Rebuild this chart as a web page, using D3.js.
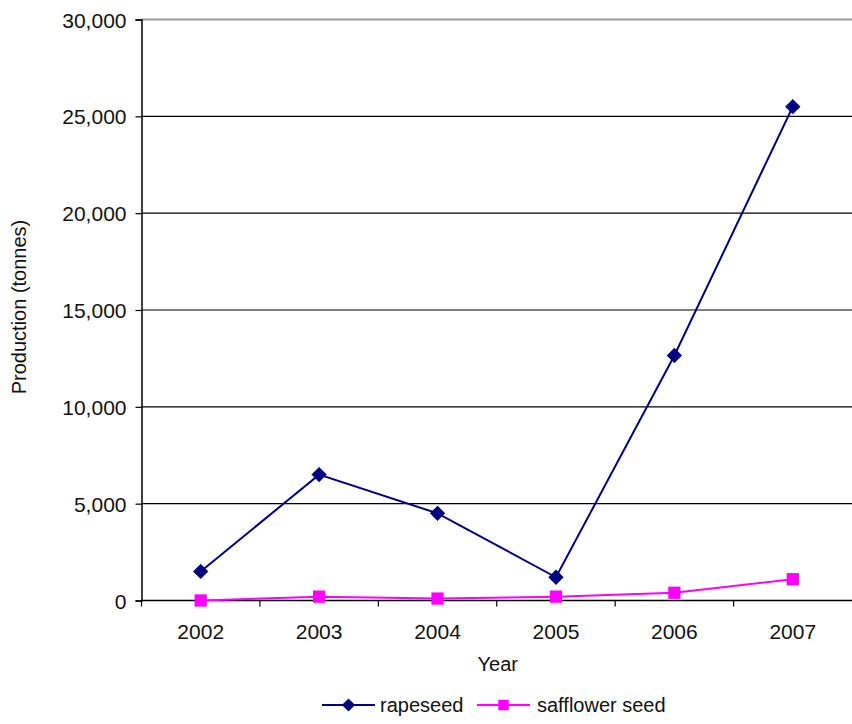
<!DOCTYPE html>
<html><head><meta charset="utf-8">
<script src="https://cdn.jsdelivr.net/npm/d3@7"></script>
<style>body{margin:0;background:#fff}svg{display:block}text{font-family:"Liberation Sans",Arial,sans-serif;fill:#111}</style>
</head><body>
<script>
const years = ["2002","2003","2004","2005","2006","2007"];
const rapeseed = [1500, 6500, 4500, 1200, 12650, 25500];
const safflower = [0, 200, 100, 200, 400, 1100];
const yTicks = [0, 5000, 10000, 15000, 20000, 25000, 30000];
const seriesNames = ["rapeseed", "safflower seed"];
const seriesColors = ["#000080", "#FF00FF"];

const W = 852, H = 724;
const m = {left: 141.5, right: 852, top: 19.5, bottom: 600.5};
const svg = d3.select("body").append("svg").attr("width", W).attr("height", H);

const x = d3.scaleBand().domain(years).range([m.left, m.right]);
const y = d3.scaleLinear().domain([0, 30000]).range([m.bottom, m.top]);

// gridlines
svg.append("g").selectAll("line").data(yTicks.filter(d => d > 0)).join("line")
  .attr("x1", m.left).attr("x2", m.right)
  .attr("y1", d => y(d)).attr("y2", d => y(d))
  .attr("stroke", d => d === 30000 ? "#999" : "#000").attr("stroke-width", d => d === 30000 ? 2 : 1.2);

const fmt = d3.format(",");
const yAxis = svg.append("g").attr("transform", `translate(${m.left},0)`)
  .call(d3.axisLeft(y).tickValues(yTicks).tickFormat(fmt).tickSize(6).tickPadding(9));
yAxis.select(".domain").attr("stroke", "#000").attr("stroke-width", 1.5);
yAxis.selectAll(".tick line").attr("stroke", "#000").attr("stroke-width", 1.2);
yAxis.selectAll("text").style("font-size", "21px").attr("fill", "#111").attr("dy", "0.36em");

// x axis
const xAxisG = svg.append("g").attr("transform", `translate(0,${m.bottom})`);
xAxisG.append("line").attr("x1", m.left).attr("x2", m.right).attr("y1", 0).attr("y2", 0)
  .attr("stroke", "#000").attr("stroke-width", 1.5);
const bounds = years.map(d => x(d)).concat([x(years[years.length-1]) + x.bandwidth()]);
xAxisG.selectAll("line.tk").data(bounds.slice(0, 6)).join("line").attr("class","tk")
  .attr("x1", d => d).attr("x2", d => d).attr("y1", 0).attr("y2", 6)
  .attr("stroke", "#000").attr("stroke-width", 1.2);
xAxisG.selectAll("text").data(years).join("text")
  .attr("x", d => x(d) + x.bandwidth()/2).attr("y", 38)
  .attr("text-anchor", "middle").style("font-size", "21px").text(d => d);

// axis titles
svg.append("text").attr("x", (m.left + m.right)/2 + 1).attr("y", 671)
  .attr("text-anchor", "middle").style("font-size", "20px").text("Year");
svg.append("text").attr("transform", `translate(26,${(m.top + m.bottom)/2 - 3}) rotate(-90)`)
  .attr("text-anchor", "middle").style("font-size", "20px").text("Production (tonnes)");

const cx = d => x(d) + x.bandwidth()/2;
const line = d3.line().x((d, i) => cx(years[i])).y(d => y(d));

const diamond = d3.symbol().type(d3.symbolDiamond2).size(150);
const square = d3.symbol().type(d3.symbolSquare).size(150);

// safflower
svg.append("path").datum(safflower).attr("d", line).attr("fill", "none")
  .attr("stroke", seriesColors[1]).attr("stroke-width", 2);
svg.append("g").selectAll("path").data(safflower).join("path")
  .attr("transform", (d, i) => `translate(${cx(years[i])},${y(d)})`)
  .attr("d", square).attr("fill", seriesColors[1]);

// rapeseed
svg.append("path").datum(rapeseed).attr("d", line).attr("fill", "none")
  .attr("stroke", seriesColors[0]).attr("stroke-width", 2);
svg.append("g").selectAll("path").data(rapeseed).join("path")
  .attr("transform", (d, i) => `translate(${cx(years[i])},${y(d)})`)
  .attr("d", diamond).attr("fill", seriesColors[0]);

// legend
const leg = [{x0: 322, tx: 380}, {x0: 477, tx: 537}];
const ly = 705;
seriesNames.forEach((name, i) => {
  const g = svg.append("g");
  g.append("line").attr("x1", leg[i].x0).attr("x2", leg[i].x0 + 53).attr("y1", ly).attr("y2", ly)
    .attr("stroke", seriesColors[i]).attr("stroke-width", 2);
  g.append("path").attr("transform", `translate(${leg[i].x0 + 26.5},${ly})`)
    .attr("d", (i === 0 ? d3.symbol().type(d3.symbolDiamond2).size(110) : d3.symbol().type(d3.symbolSquare).size(110))())
    .attr("fill", seriesColors[i]);
  g.append("text").attr("x", leg[i].tx).attr("y", ly + 7).style("font-size", "20px").text(name);
});
</script>
</body></html>
